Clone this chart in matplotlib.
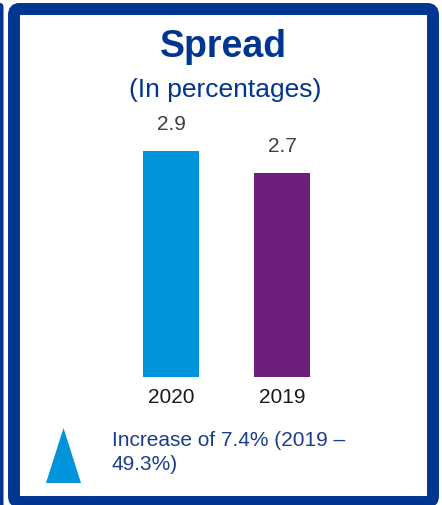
import matplotlib.pyplot as plt
from matplotlib.patches import FancyBboxPatch, Polygon

plt.rcParams['font.family'] = ['Liberation Sans', 'DejaVu Sans']

years = ["2020", "2019"]
spread = [2.9, 2.7]
bar_colors = ["#0095DA", "#6C1F7A"]
title = "Spread"
subtitle = "(In percentages)"
note_lines = ["Increase of 7.4% (2019 \u2013", "49.3%)"]

W, H = 442, 505
NAVY = "#003591"
TEXT_BLUE = "#1B3C8F"


def fx(px):
    return px / W


def fy(py):
    # pixel rows are counted from the top
    return 1 - py / H


fig = plt.figure(figsize=(W / 100, H / 100), dpi=100)
fig.patch.set_facecolor("white")

# edge of the neighbouring panel on the far left
fig.patches.append(FancyBboxPatch((fx(-6), fy(520)), fx(9.5), fy(3) - fy(520),
                                  boxstyle="round,pad=0,rounding_size=0.008",
                                  transform=fig.transFigure, facecolor=NAVY,
                                  edgecolor="none"))

# the panel frame
fig.patches.append(FancyBboxPatch((fx(14), fy(502)), fx(433) - fx(14), fy(9) - fy(502),
                                  boxstyle="round,pad=0,rounding_size=0.012",
                                  transform=fig.transFigure, facecolor="none",
                                  edgecolor=NAVY, linewidth=8.6))

fig.text(fx(223.5), fy(57), title, ha="center", va="baseline",
         fontsize=27, fontweight="bold", color=NAVY)
fig.text(fx(225), fy(96.5), subtitle, ha="center", va="baseline",
         fontsize=19, color=NAVY)

# bar axes: x from -0.5 to 1.5, y from 0.85 to 3.0
ax = fig.add_axes([fx(115.5), fy(377), fx(222), fy(140) - fy(377)])
ax.set_xlim(-0.5, 1.5)
ax.set_ylim(0.85, 3.0)
bars = ax.bar(range(len(years)), spread, width=0.505, color=bar_colors, bottom=0)
ax.bar_label(bars, labels=[f"{v:.1f}" for v in spread], padding=12,
             fontsize=15, color="#404040")
ax.set_xticks(range(len(years)), years)
ax.tick_params(axis="x", length=0, pad=8, labelsize=15, labelcolor="#1a1a1a")
ax.set_yticks([])
for s in ax.spines.values():
    s.set_visible(False)
ax.patch.set_alpha(0)

# up arrow marker and the note beside it
fig.patches.append(Polygon([(fx(46), fy(483)), (fx(81), fy(483)), (fx(63.5), fy(428))],
                           closed=True, transform=fig.transFigure,
                           facecolor="#0095DA", edgecolor="none"))
fig.text(fx(112), fy(445.5), note_lines[0], ha="left", va="baseline",
         fontsize=15, color=TEXT_BLUE)
fig.text(fx(112), fy(469.5), note_lines[1], ha="left", va="baseline",
         fontsize=15, color=TEXT_BLUE)

fig.savefig("out.png", dpi=100)
